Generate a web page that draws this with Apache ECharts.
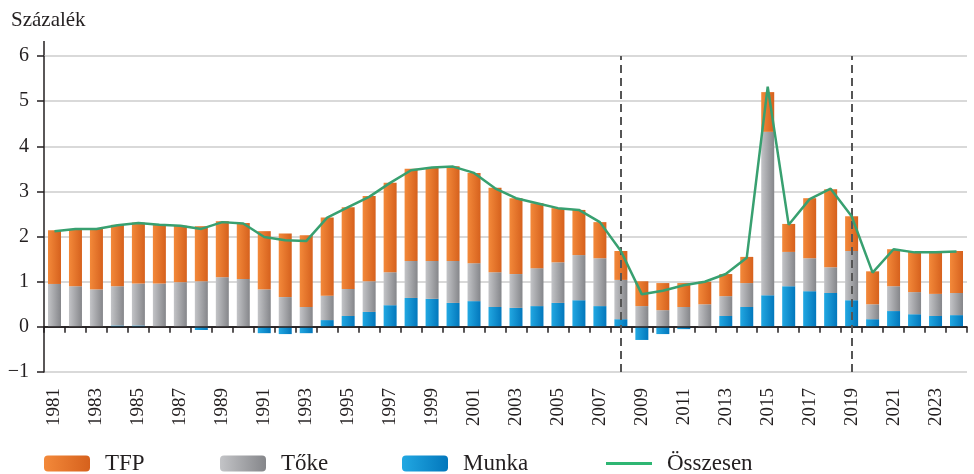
<!DOCTYPE html>
<html>
<head>
<meta charset="utf-8">
<script src="https://cdn.jsdelivr.net/npm/echarts@6/dist/echarts.min.js"></script>
<style>
  html, body { margin: 0; padding: 0; background: #fff; }
  #chart { width: 974px; height: 474px; }
</style>
</head>
<body>
<div id="chart"></div>
<script>
// évek
const years = ['1981','1982','1983','1984','1985','1986','1987','1988','1989','1990',
  '1991','1992','1993','1994','1995','1996','1997','1998','1999','2000',
  '2001','2002','2003','2004','2005','2006','2007','2008','2009','2010',
  '2011','2012','2013','2014','2015','2016','2017','2018','2019','2020',
  '2021','2022','2023','2024'];

const tfp = [1.19, 1.25, 1.34, 1.36, 1.35, 1.31, 1.25, 1.22, 1.24, 1.24,
  1.29, 1.41, 1.59, 1.73, 1.81, 1.89, 1.98, 2.04, 2.06, 2.10,
  2.00, 1.87, 1.68, 1.44, 1.20, 1.00, 0.80, 0.64, 0.55, 0.60,
  0.53, 0.50, 0.49, 0.58, 0.88, 0.62, 1.33, 1.73, 0.77, 0.73,
  0.82, 0.89, 0.91, 0.93];

const toke = [0.95, 0.90, 0.83, 0.87, 0.93, 0.96, 0.99, 1.01, 1.10, 1.06,
  0.83, 0.66, 0.44, 0.54, 0.60, 0.68, 0.73, 0.82, 0.84, 0.93,
  0.84, 0.77, 0.75, 0.84, 0.90, 1.00, 1.06, 0.87, 0.46, 0.37,
  0.44, 0.50, 0.44, 0.53, 3.62, 0.76, 0.73, 0.57, 1.09, 0.33,
  0.55, 0.49, 0.49, 0.49];

const munka = [0, 0, 0, 0.03, 0.03, 0, 0, -0.07, 0, 0,
  -0.14, -0.16, -0.14, 0.15, 0.24, 0.33, 0.48, 0.64, 0.62, 0.53,
  0.57, 0.44, 0.42, 0.46, 0.53, 0.59, 0.46, 0.17, -0.29, -0.16,
  -0.05, 0, 0.24, 0.44, 0.70, 0.90, 0.79, 0.75, 0.59, 0.17,
  0.35, 0.28, 0.24, 0.26];

const osszesen = [2.12, 2.17, 2.17, 2.25, 2.30, 2.26, 2.24, 2.17, 2.32, 2.29,
  1.99, 1.92, 1.90, 2.42, 2.65, 2.88, 3.19, 3.47, 3.53, 3.55,
  3.41, 3.07, 2.85, 2.74, 2.63, 2.59, 2.32, 1.68, 0.72, 0.80,
  0.92, 1.00, 1.17, 1.53, 5.32, 2.26, 2.83, 3.06, 2.45, 1.20,
  1.72, 1.65, 1.65, 1.67];

const yTicks = [-1, 0, 1, 2, 3, 4, 5, 6];
const breakYears = ['2008', '2019'];

const FONT = 'Liberation Serif';

function grad(c1, c2) {
  return new echarts.graphic.LinearGradient(0, 0, 1, 0, [
    { offset: 0, color: c1 },
    { offset: 1, color: c2 }
  ]);
}

const chart = echarts.init(document.getElementById('chart'));

function legendAt(item, left, extra) {
  return Object.assign({
    data: [item],
    left: left,
    top: 452,
    itemWidth: 46,
    itemHeight: 16,
    selectedMode: false,
    padding: 0,
    textStyle: { fontFamily: FONT, fontSize: 23, color: '#231f20', padding: [0, 0, 0, 10] }
  }, extra || {});
}

const option = {
  animation: false,
  title: {
    text: 'Százalék',
    left: 6,
    top: 5,
    textStyle: { fontFamily: FONT, fontSize: 21, fontWeight: 'normal', color: '#231f20' }
  },
  legend: [
    legendAt('TFP', 44),
    legendAt('Tőke', 220),
    legendAt('Munka', 402),
    legendAt({
      name: 'Összesen',
      icon: 'rect',
      itemStyle: { color: '#2eb673', opacity: 1 }
    }, 606, { itemHeight: 3 })
  ],
  grid: { left: 44, right: 7, top: 56, bottom: 102 },
  xAxis: {
    type: 'category',
    data: years,
    axisLine: { lineStyle: { color: '#231f20', width: 1.5 } },
    axisTick: { show: true, interval: 0, length: 6, lineStyle: { color: '#231f20', width: 1.5 } },
    axisLabel: {
      interval: 1,
      rotate: 90,
      margin: 16,
      fontFamily: FONT,
      fontSize: 19,
      color: '#231f20'
    },
    splitLine: { show: false }
  },
  yAxis: {
    type: 'value',
    min: yTicks[0],
    max: yTicks[yTicks.length - 1],
    interval: 1,
    axisLine: { show: true, lineStyle: { color: '#231f20', width: 1.5 } },
    axisTick: { show: true, length: 7, lineStyle: { color: '#231f20', width: 1.5 } },
    axisLabel: {
      margin: 15,
      fontFamily: FONT,
      fontSize: 20,
      color: '#231f20',
      formatter: v => String(v).replace('-', '−')
    },
    splitLine: { lineStyle: { color: '#d9d9d9', width: 2 } }
  },
  graphic: [{
    // y tengely vonala 6 fölé nyúlik
    type: 'line',
    shape: { x1: 44, y1: 41, x2: 44, y2: 56 },
    style: { stroke: '#231f20', lineWidth: 1.5 }
  }],
  series: [
    {
      name: 'Munka',
      type: 'bar',
      stack: 'total',
      barWidth: 13,
      data: munka,
      itemStyle: { color: grad('#22a8e2', '#0277bc') },
      markLine: {
        silent: true,
        symbol: 'none',
        label: { show: false },
        lineStyle: { color: '#231f20', width: 1.5, type: 'solid' },
        data: [{ yAxis: 0 }]
      }
    },
    {
      name: 'Tőke',
      type: 'bar',
      stack: 'total',
      barWidth: 13,
      data: toke,
      itemStyle: { color: grad('#c3c4c7', '#85868a') }
    },
    {
      name: 'TFP',
      type: 'bar',
      stack: 'total',
      barWidth: 13,
      data: tfp,
      itemStyle: { color: grad('#f3893a', '#d6611d') }
    },
    {
      name: 'Összesen',
      type: 'line',
      data: osszesen,
      symbol: 'none',
      z: 5,
      lineStyle: { color: '#38a070', width: 2.5 },
      itemStyle: { color: '#38a070' },
      markLine: {
        silent: true,
        symbol: 'none',
        label: { show: false },
        lineStyle: { color: '#555', width: 2, type: [8, 5] },
        data: breakYears.map(y => ({ xAxis: y }))
      }
    }
  ]
};

chart.setOption(option);
</script>
</body>
</html>
